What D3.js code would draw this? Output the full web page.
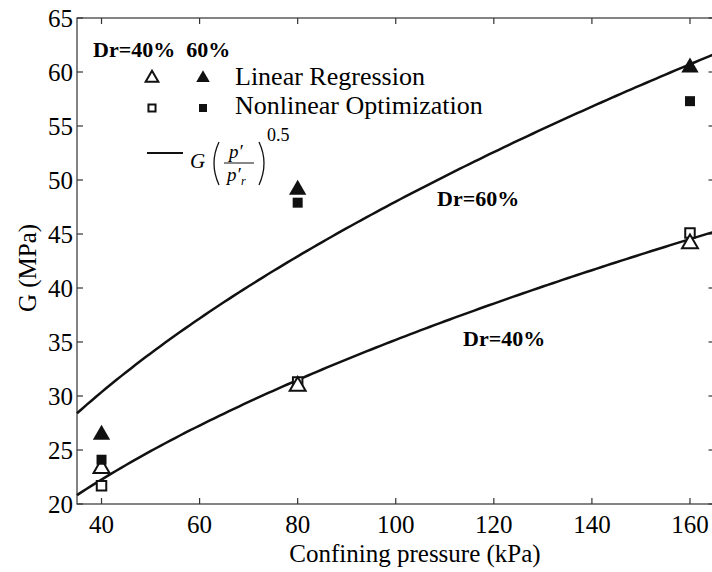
<!DOCTYPE html>
<html>
<head>
<meta charset="utf-8">
<script src="https://cdn.jsdelivr.net/npm/d3@7"></script>
<style>
  body { margin: 0; background: #fff; }
  svg text { font-family: "Liberation Serif", "Times New Roman", Tinos, "DejaVu Serif", serif; }
</style>
</head>
<body>
<svg id="chart" width="712" height="572"></svg>
<script>
// data
const pressures = [40, 80, 160];
const linear40 = [23.4, 31.0, 44.2];
const linear60 = [26.5, 49.2, 60.5];
const nonlin40 = [21.7, 31.3, 45.1];
const nonlin60 = [24.1, 47.9, 57.3];
// fitted curves G*(p/pr)^0.5, pr = 100 kPa
const fitG = [35.2, 48.0];
const fitLabels = ["Dr=40%", "Dr=60%"];
const xTicks = [40, 60, 80, 100, 120, 140, 160];
const yTicks = [20, 25, 30, 35, 40, 45, 50, 55, 60, 65];

const svg = d3.select("#chart");
const margin = {left: 77, right: -2.5, top: 18, bottom: 68};
const width = 712, height = 572;
const serif = "'Liberation Serif', 'Times New Roman', Tinos, 'DejaVu Serif', serif";

const x = d3.scaleLinear().domain([35, 165]).range([margin.left, width - margin.right]);
const y = d3.scaleLinear().domain([20, 65]).range([height - margin.bottom, margin.top]);

// frame
svg.append("rect")
  .attr("x", x(35)).attr("y", y(65))
  .attr("width", x(165) - x(35)).attr("height", y(20) - y(65))
  .attr("fill", "none").attr("stroke", "#333").attr("stroke-width", 1.2);

const tickLen = 6;
const tickStyle = g => g.attr("stroke", "#333").attr("stroke-width", 1.2);

// x ticks, bottom and top, pointing in
xTicks.forEach(v => {
  svg.append("line").attr("x1", x(v)).attr("x2", x(v))
    .attr("y1", y(20)).attr("y2", y(20) - tickLen).call(tickStyle);
  svg.append("line").attr("x1", x(v)).attr("x2", x(v))
    .attr("y1", y(65)).attr("y2", y(65) + tickLen).call(tickStyle);
  svg.append("text").attr("x", x(v)).attr("y", y(20) + 29)
    .attr("font-family", serif)
    .attr("text-anchor", "middle").attr("font-size", 25).text(v);
});
// y ticks, left and right
yTicks.forEach(v => {
  svg.append("line").attr("x1", x(35)).attr("x2", x(35) + tickLen)
    .attr("y1", y(v)).attr("y2", y(v)).call(tickStyle);
  svg.append("line").attr("x1", x(165)).attr("x2", x(165) - tickLen)
    .attr("y1", y(v)).attr("y2", y(v)).call(tickStyle);
  svg.append("text").attr("x", x(35) - 4).attr("y", y(v) + 9)
    .attr("font-family", serif)
    .attr("text-anchor", "end").attr("font-size", 25).text(v);
});

svg.append("text").attr("x", 415).attr("y", 562).attr("font-family", serif)
  .attr("text-anchor", "middle").attr("font-size", 25).text("Confining pressure (kPa)");
svg.append("text").attr("transform", "translate(36," + 268 + ") rotate(-90)").attr("font-family", serif)
  .attr("text-anchor", "middle").attr("font-size", 25).text("G (MPa)");

// fitted curves
const line = d3.line().x(d => x(d[0])).y(d => y(d[1]));
fitG.forEach(G => {
  const pts = d3.range(35, 165.01, 1).map(p => [p, G * Math.sqrt(p / 100)]);
  svg.append("path").datum(pts).attr("d", line)
    .attr("fill", "none").attr("stroke", "#111").attr("stroke-width", 2.5);
});
svg.append("text").attr("x", 463).attr("y", 346).attr("font-size", 22).attr("font-family", serif)
  .attr("font-weight", "bold").text(fitLabels[0]);
svg.append("text").attr("x", 437).attr("y", 206).attr("font-size", 22).attr("font-family", serif)
  .attr("font-weight", "bold").text(fitLabels[1]);

// markers
const tri = d3.symbol().type(d3.symbolTriangle);
const sq = d3.symbol().type(d3.symbolSquare);
function marks(vals, gen, size, filled, dy) {
  svg.append("g").selectAll("path").data(vals).join("path")
    .attr("transform", (d, i) => "translate(" + x(pressures[i]) + "," + (y(d) + (dy || 0)) + ")")
    .attr("d", gen.size(size)())
    .attr("fill", filled ? "#111" : "#fff")
    .attr("stroke", "#111").attr("stroke-width", filled ? 0 : 2);
}
marks(nonlin40, sq, 90, false);
marks(linear40, tri, 110, false, 1);
marks(nonlin60, sq, 100, true);
marks(linear60, tri, 130, true, 1);

// legend
const lg = svg.append("g");
lg.append("text").attr("x", 93).attr("y", 57).attr("font-size", 22).attr("font-family", serif)
  .attr("font-weight", "bold").attr("xml:space", "preserve").text("Dr=40%  60%");
lg.append("path").attr("transform", "translate(152,78)").attr("d", tri.size(70)())
  .attr("fill", "#fff").attr("stroke", "#111").attr("stroke-width", 2);
lg.append("path").attr("transform", "translate(203,78)").attr("d", tri.size(80)())
  .attr("fill", "#111");
lg.append("text").attr("x", 235).attr("y", 85).attr("font-size", 26).attr("font-family", serif).text("Linear Regression");
lg.append("path").attr("transform", "translate(152,108)").attr("d", sq.size(50)())
  .attr("fill", "#fff").attr("stroke", "#111").attr("stroke-width", 2);
lg.append("path").attr("transform", "translate(203,108)").attr("d", sq.size(64)())
  .attr("fill", "#111");
lg.append("text").attr("x", 235).attr("y", 114).attr("font-size", 26).attr("font-family", serif).text("Nonlinear Optimization");
lg.append("line").attr("x1", 147).attr("x2", 183).attr("y1", 153).attr("y2", 153)
  .attr("stroke", "#111").attr("stroke-width", 2);
// formula G (p'/p'_r)^0.5
const f = lg.append("g").attr("font-style", "italic").attr("font-family", serif);
f.append("text").attr("x", 190).attr("y", 168).attr("font-size", 21).text("G");
f.append("path").attr("d", "M219,142 Q209,163 219,185").attr("fill", "none").attr("stroke", "#111").attr("stroke-width", 1.3);
f.append("path").attr("d", "M259,142 Q269,163 259,185").attr("fill", "none").attr("stroke", "#111").attr("stroke-width", 1.3);
f.append("text").attr("x", 229).attr("y", 158).attr("font-size", 19).text("p\u2032");
f.append("line").attr("x1", 224).attr("x2", 254).attr("y1", 163).attr("y2", 163).attr("stroke", "#111").attr("stroke-width", 1);
f.append("text").attr("x", 227).attr("y", 181).attr("font-size", 19).text("p\u2032");
f.append("text").attr("x", 241).attr("y", 185).attr("font-size", 12).text("r");
lg.append("text").attr("x", 267).attr("y", 141).attr("font-size", 18).attr("font-family", serif).text("0.5");
</script>
</body>
</html>
